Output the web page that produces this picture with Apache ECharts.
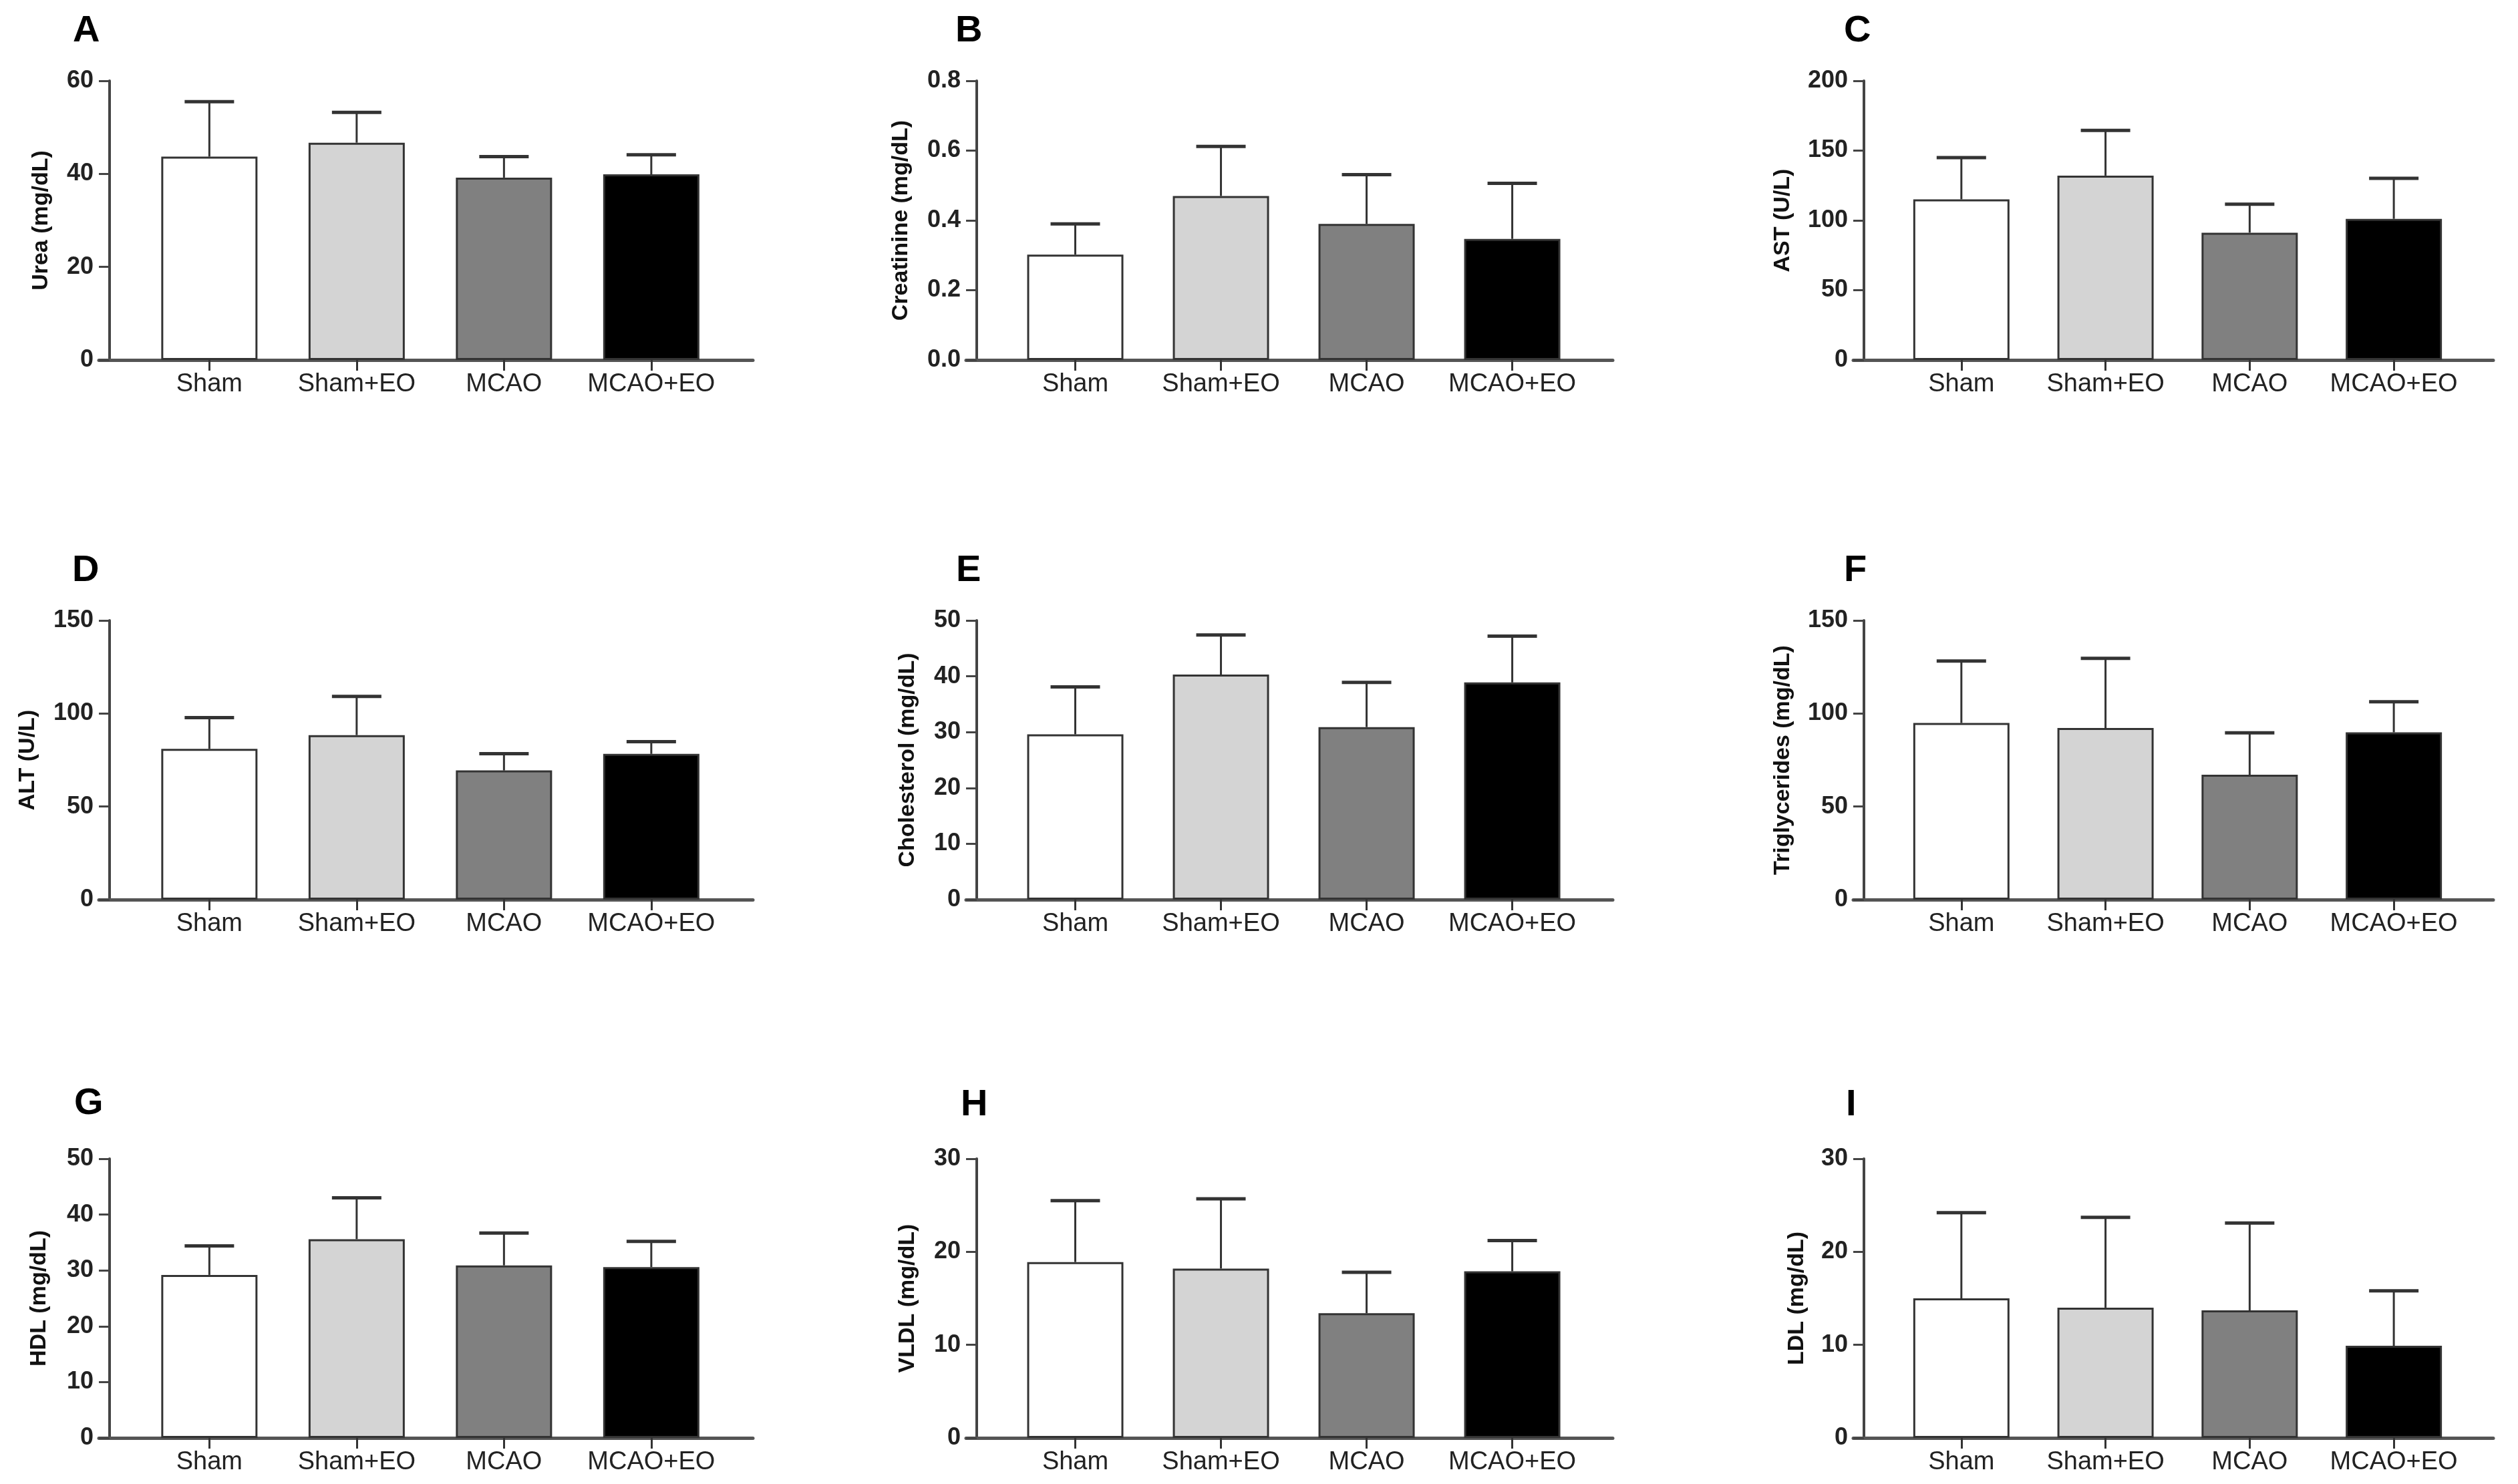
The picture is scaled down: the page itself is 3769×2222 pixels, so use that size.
<!DOCTYPE html>
<html lang="en" style="height: 100%">
<head>
   <meta charset="utf-8">
   <style>
      html, body {
         margin: 0;
         padding: 0;
         width: 100%;
         height: 100%;
         overflow: hidden;
         background: #fff;
      }
   </style>
   <script src="https://cdn.jsdelivr.net/npm/echarts@6/dist/echarts.min.js"></script>
</head>
<body>
   <div id="container" style="height: 100%;width: 100%;"></div>
   <script type="text/javascript">

      // groups on every x axis
      let groups = ["Sham", "Sham+EO", "MCAO", "MCAO+EO"];
      let groupColors = ["#ffffff", "#d4d4d4", "#808080", "#000000"];

      // mean and SD (upper error bar) per panel
      let ureaMean = [43.7, 46.7, 39.2, 39.9];
      let ureaSd = [11.8, 6.5, 4.5, 4.2];
      let creatinineMean = [0.302, 0.470, 0.390, 0.347];
      let creatinineSd = [0.088, 0.142, 0.141, 0.159];
      let astMean = [115.1, 132.1, 91.2, 101.1];
      let astSd = [29.9, 32.4, 20.4, 29.1];
      let altMean = [81.0, 88.4, 69.4, 78.3];
      let altSd = [16.8, 20.8, 9.0, 6.6];
      let cholMean = [29.6, 40.3, 30.9, 38.9];
      let cholSd = [8.5, 7.1, 8.0, 8.3];
      let trigMean = [94.9, 92.2, 67.1, 89.9];
      let trigSd = [33.3, 37.4, 22.5, 16.4];
      let hdlMean = [29.2, 35.6, 30.9, 30.6];
      let hdlSd = [5.2, 7.4, 5.8, 4.6];
      let vldlMean = [18.9, 18.2, 13.4, 17.9];
      let vldlSd = [6.6, 7.5, 4.4, 3.3];
      let ldlMean = [15.0, 14.0, 13.7, 9.9];
      let ldlSd = [9.2, 9.7, 9.4, 5.9];

      // y axis tick setup: max, step, decimals
      let yMax = [60, 0.8, 200, 150, 50, 150, 50, 30, 30];
      let yStep = [20, 0.2, 50, 50, 10, 50, 10, 10, 10];
      let yDecimals = [0, 1, 0, 0, 0, 0, 0, 0, 0];
      let letters = ["A", "B", "C", "D", "E", "F", "G", "H", "I"];
      let yNames = ["Urea (mg/dL)", "Creatinine (mg/dL)", "AST (U/L)", "ALT (U/L)",
         "Cholesterol (mg/dL)", "Triglycerides (mg/dL)", "HDL (mg/dL)", "VLDL (mg/dL)", "LDL (mg/dL)"];

      let means = [ureaMean, creatinineMean, astMean, altMean, cholMean, trigMean, hdlMean, vldlMean, ldlMean];
      let sds = [ureaSd, creatinineSd, astSd, altSd, cholSd, trigSd, hdlSd, vldlSd, ldlSd];

      // layout (px)
      let colLeft = [164, 1462, 2790];
      let colEnd = [1127, 2414, 3732];
      let rowTop = [121, 929, 1735];
      let plotH = 418;
      let nameGaps = [85, 96, 104, 105, 86, 104, 88, 86, 83];
      let letterPos = [[104, 14], [1425, 14], [2755, 14], [103, 822], [1426, 822], [2755, 822], [106, 1620], [1433, 1622], [2758, 1622]];

      let font = "Liberation Sans, Arial, sans-serif";
      let dark = "#333333";

      var dom = document.getElementById('container');
      var myChart = echarts.init(dom, null, { renderer: 'canvas' });

      let grid = [], xAxis = [], yAxis = [], series = [], title = [];

      letters.forEach(function (letter, i) {
         let col = i % 3, row = Math.floor(i / 3);
         title.push({
            text: letter,
            left: letterPos[i][0],
            top: letterPos[i][1],
            textStyle: { fontFamily: font, fontSize: 56, fontWeight: "bold", color: "#000" }
         });
         grid.push({
            left: colLeft[col] - 16,
            top: rowTop[row],
            width: colEnd[col] - colLeft[col] + 16,
            height: plotH
         });
         xAxis.push({
            gridIndex: i,
            type: "value",
            min: -0.75,
            max: 3.69,
            splitLine: { show: false },
            axisLine: { show: true, onZero: false, lineStyle: { color: "#555", width: 5 } },
            axisTick: { show: true, customValues: [0, 1, 2, 3], length: 16, lineStyle: { color: dark, width: 3 } },
            axisLabel: {
               show: true,
               customValues: [0, 1, 2, 3],
               margin: 18,
               formatter: function (v) { return groups[Math.round(v)]; },
               fontFamily: font,
               fontSize: 38,
               color: "#222"
            }
         });
         yAxis.push({
            gridIndex: i,
            type: "value",
            min: 0,
            max: yMax[i],
            interval: yStep[i],
            offset: -16,
            name: yNames[i],
            nameLocation: "middle",
            nameGap: nameGaps[i],
            nameRotate: 90,
            nameTextStyle: { fontFamily: font, fontSize: 34, fontWeight: "bold", color: "#111" },
            splitLine: { show: false },
            axisLine: { show: true, onZero: false, lineStyle: { color: "#444", width: 4 } },
            axisTick: { show: true, length: 16, lineStyle: { color: "#444", width: 3 } },
            axisLabel: {
               margin: 24,
               fontFamily: font,
               fontSize: 36,
               fontWeight: "bold",
               color: "#222",
               formatter: function (v) { return v.toFixed(yDecimals[i]); }
            }
         });
         series.push({
            type: "bar",
            xAxisIndex: i,
            yAxisIndex: i,
            barWidth: 144,
            itemStyle: { borderColor: dark, borderWidth: 3 },
            data: means[i].map(function (m, k) {
               return { value: [k, m], itemStyle: { color: groupColors[k] } };
            }),
            z: 2
         });
         series.push({
            type: "custom",
            xAxisIndex: i,
            yAxisIndex: i,
            z: 3,
            encode: { x: 0, y: [1, 2] },
            data: means[i].map(function (m, k) { return [k, m, m + sds[i][k]]; }),
            renderItem: function (params, api) {
               let base = api.coord([api.value(0), api.value(1)]);
               let top = api.coord([api.value(0), api.value(2)]);
               return {
                  type: "group",
                  children: [
                     {
                        type: "line",
                        shape: { x1: base[0], y1: base[1], x2: top[0], y2: top[1] },
                        style: { stroke: dark, lineWidth: 3 }
                     },
                     {
                        type: "line",
                        shape: { x1: top[0] - 37, y1: top[1], x2: top[0] + 37, y2: top[1] },
                        style: { stroke: dark, lineWidth: 5 }
                     }
                  ]
               };
            }
         });
      });

      var option = {
         animation: false,
         backgroundColor: "#ffffff",
         title: title,
         grid: grid,
         xAxis: xAxis,
         yAxis: yAxis,
         series: series
      };

      myChart.setOption(option);
      window.addEventListener('resize', myChart.resize);
   </script>
</body>
</html>
